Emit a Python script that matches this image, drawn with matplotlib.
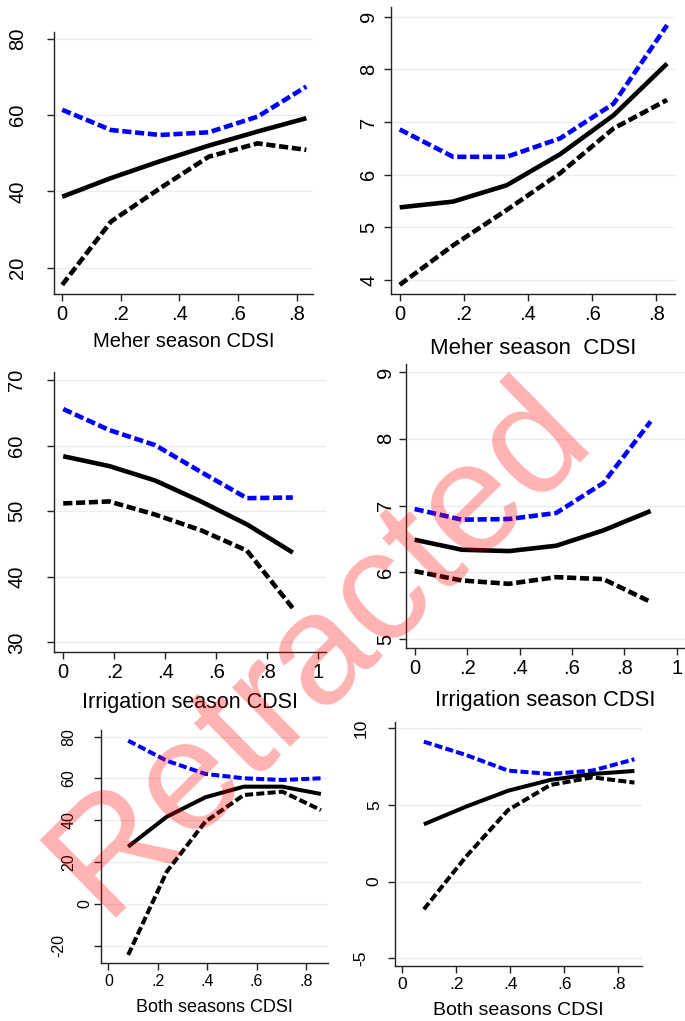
import matplotlib
matplotlib.use('Agg')
import matplotlib.pyplot as plt
from matplotlib.ticker import FuncFormatter
from matplotlib.transforms import offset_copy

plt.rcParams['font.family'] = ['Liberation Sans', 'DejaVu Sans']
plt.rcParams['axes.unicode_minus'] = False

# x grids of the three CDSI measures
x_meher = [0, 1/6, 2/6, 3/6, 4/6, 5/6]
x_irrig = [0, 0.18, 0.36, 0.54, 0.72, 0.9]
x_both = [0.08, 0.236, 0.392, 0.548, 0.704, 0.86]

# top row
p1_est = [38.6, 43.5, 47.9, 52.0, 55.7, 59.2]
p1_up = [61.4, 56.1, 54.8, 55.5, 59.6, 67.5]
p1_lo = [15.5, 32.1, 40.8, 49.1, 52.6, 50.9]

p2_est = [5.38, 5.49, 5.80, 6.39, 7.13, 8.11]
p2_up = [6.86, 6.34, 6.34, 6.69, 7.35, 8.84]
p2_lo = [3.91, 4.66, 5.33, 6.03, 6.88, 7.42]

# middle row
p3_est = [58.4, 56.9, 54.7, 51.5, 48.0, 43.7]
p3_up = [65.6, 62.4, 60.1, 56.0, 52.0, 52.1]
p3_lo = [51.2, 51.5, 49.5, 47.1, 44.0, 35.2]

p4_est = [6.49, 6.34, 6.32, 6.40, 6.63, 6.92]
p4_up = [6.95, 6.79, 6.80, 6.89, 7.34, 8.26]
p4_lo = [6.02, 5.88, 5.83, 5.93, 5.90, 5.56]

# bottom row
p5_est = [27.4, 41.7, 51.0, 56.1, 56.1, 52.6]
p5_up = [78.1, 68.5, 62.2, 60.1, 59.3, 60.1]
p5_lo = [-24.4, 15.4, 39.3, 52.1, 53.7, 44.9]

p6_est = [3.74, 4.89, 5.93, 6.63, 7.02, 7.22]
p6_up = [9.13, 8.26, 7.24, 7.02, 7.24, 7.98]
p6_lo = [-1.8, 1.63, 4.67, 6.30, 6.80, 6.46]

W, H = 685, 1021
fig = plt.figure(figsize=(W / 100, H / 100), dpi=100)


def xfmt(v, p):
    s = f"{v:g}"
    if s.startswith('0.'):
        s = s[1:]
    return s


def add_panel(box, xlim, ylim, xt, yt, x, est, up, lo, label, tfs, lfs, lw, ydist, lpad):
    l, t, r, b = box
    ax = fig.add_axes([l / W, 1 - b / H, (r - l) / W, (b - t) / H])
    ax.plot(x, up, color='#0000ff', lw=lw, ls=(0, (2.0, 0.8)), dash_capstyle='butt')
    ax.plot(x, est, color='black', lw=lw, solid_capstyle='butt')
    ax.plot(x, lo, color='black', lw=lw, ls=(0, (2.0, 0.8)), dash_capstyle='butt')
    ax.set_xlim(*xlim)
    ax.set_ylim(*ylim)
    ax.set_xticks(xt)
    ax.set_yticks(yt)
    ax.set_yticklabels([])
    ax.xaxis.set_major_formatter(FuncFormatter(xfmt))
    for s in ['top', 'right']:
        ax.spines[s].set_visible(False)
    for s in ['left', 'bottom']:
        ax.spines[s].set_linewidth(1.0)
        ax.spines[s].set_color('#222222')
    ax.grid(axis='y', color='#e6eef0', lw=1.0)
    ax.set_axisbelow(True)
    ax.tick_params(length=5, width=1, color='#222222', labelsize=tfs, pad=3)
    # vertical y labels, placed like Stata does (longer labels sit further left)
    for v in yt:
        s = f"{v:g}"
        d = ydist[min(len(s), len(ydist)) - 1]
        tr = offset_copy(ax.get_yaxis_transform(), fig=fig, x=-d, y=0, units='dots')
        ax.text(0, v, s, transform=tr, rotation=90, ha='center', va='center',
                fontsize=tfs, clip_on=False)
    ax.set_xlabel(label, fontsize=lfs, labelpad=lpad)
    return ax


add_panel((54, 32, 313, 294), (-0.028, 0.856), (13.1, 81.8), [0, .2, .4, .6, .8], [20, 40, 60, 80],
          x_meher, p1_est, p1_up, p1_lo, 'Meher season CDSI', 14.5, 14.5, 3.3, [36.5, 36.5], 6)
add_panel((390.7, 6.7, 674.7, 294.3), (-0.028, 0.857), (3.73, 9.19), [0, .2, .4, .6, .8], [4, 5, 6, 7, 8, 9],
          x_meher, p2_est, p2_up, p2_lo, 'Meher season  CDSI', 14.5, 16, 3.3, [21.9], 10)
add_panel((54.3, 371.7, 326, 651.7), (-0.035, 1.03), (28.57, 71.3), [0, .2, .4, .6, .8, 1], [30, 40, 50, 60, 70],
          x_irrig, p3_est, p3_up, p3_lo, 'Irrigation season CDSI', 14.5, 15.5, 3.3, [37.6, 37.6], 7)
add_panel((405.7, 364, 684.7, 648.3), (-0.034, 1.03), (4.865, 9.12), [0, .2, .4, .6, .8, 1], [5, 6, 7, 8, 9],
          x_irrig, p4_est, p4_up, p4_lo, 'Irrigation season CDSI', 14.5, 15.8, 3.3, [20.2], 8)
add_panel((101, 730, 328.3, 963.3), (-0.03, 0.89), (-28.4, 83.2), [0, .2, .4, .6, .8], [-20, 0, 20, 40, 60, 80],
          x_both, p5_est, p5_up, p5_lo, 'Both seasons CDSI', 11.5, 13, 2.9, [16, 31.8, 41.8], 7)
add_panel((395, 721.7, 642, 966), (-0.027, 0.888), (-5.5, 10.43), [0, .2, .4, .6, .8], [-5, 0, 5, 10],
          x_both, p6_est, p6_up, p6_lo, 'Both seasons CDSI', 12.5, 14, 2.9, [20.7, 34], 7)

# retraction watermark, baseline starting at the foot of the "R"
fig.text(104 / W, 1 - 918 / H, 'Retracted', rotation=44.5, fontsize=114, color='red', alpha=0.3,
         ha='left', va='baseline', rotation_mode='anchor', zorder=10)

fig.savefig('out.png', dpi=100, facecolor='white')
